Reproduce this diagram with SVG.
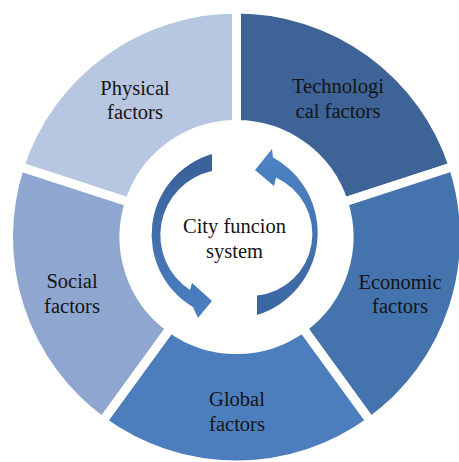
<svg xmlns="http://www.w3.org/2000/svg" width="459" height="462" viewBox="0 0 459 462">
<style>
.seg{stroke:#ffffff;stroke-width:9;stroke-linejoin:round}
.lbl{font-family:'Liberation Serif','Times New Roman',serif;font-size:20.5px;fill:#141414;text-anchor:middle}
</style>
<defs>
<linearGradient id="gL" x1="0" y1="0" x2="0" y2="1">
<stop offset="0" stop-color="#395f96"/>
<stop offset="1" stop-color="#4a80c2"/>
</linearGradient>
<linearGradient id="gR" x1="0" y1="0" x2="0" y2="1">
<stop offset="0" stop-color="#4d84c5"/>
<stop offset="1" stop-color="#3a659f"/>
</linearGradient>
</defs>
<rect width="459" height="462" fill="#ffffff"/>
<g id="technological">
<path class="seg" fill="#3e6397" d="M236.5,9 A228,228 0 0 1 453.34,166.54 L343.49,202.24 A112.5,112.5 0 0 0 236.5,124.5 Z"/>
<text class="lbl" x="338" y="93">Technologi</text>
<text class="lbl" x="338" y="118">cal factors</text>
</g>
<g id="economic">
<path class="seg" fill="#4473ad" d="M453.34,166.54 A228,228 0 0 1 370.52,421.46 L302.63,328.01 A112.5,112.5 0 0 0 343.49,202.24 Z"/>
<text class="lbl" x="400" y="289">Economic</text>
<text class="lbl" x="400" y="313">factors</text>
</g>
<g id="global">
<path class="seg" fill="#4c7ebe" d="M370.52,421.46 A228,228 0 0 1 102.48,421.46 L170.37,328.01 A112.5,112.5 0 0 0 302.63,328.01 Z"/>
<text class="lbl" x="237" y="406">Global</text>
<text class="lbl" x="237" y="431">factors</text>
</g>
<g id="social">
<path class="seg" fill="#8fa7d0" d="M102.48,421.46 A228,228 0 0 1 19.66,166.54 L129.51,202.24 A112.5,112.5 0 0 0 170.37,328.01 Z"/>
<text class="lbl" x="72" y="288">Social</text>
<text class="lbl" x="72" y="313">factors</text>
</g>
<g id="physical">
<path class="seg" fill="#b8c7e1" d="M19.66,166.54 A228,228 0 0 1 236.5,9 L236.5,124.5 A112.5,112.5 0 0 0 129.51,202.24 Z"/>
<text class="lbl" x="135" y="95">Physical</text>
<text class="lbl" x="135" y="119">factors</text>
</g>
<g id="center">
<text class="lbl" x="234.5" y="233">City funcion</text>
<text class="lbl" x="234.5" y="258">system</text>
</g>
<g id="connectors">
<path fill="url(#gL)" d="M212,171 L212,154 A84,84 0 0 0 193,307 L198,318 L212,301 L192,283 L190,290 A65.6,65.6 0 0 1 212,171 Z"/>
<path fill="url(#gR)" d="M257,295.6 L257,315 A86,86 0 0 0 273,157.4 L272,149 L255,170 L274,186 L276,177.5 A62,62 0 0 1 257,295.6 Z"/>
</g>
</svg>
